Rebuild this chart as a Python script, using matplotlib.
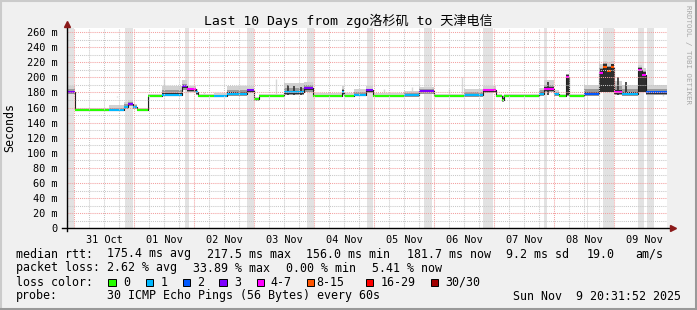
import matplotlib
matplotlib.use("Agg")
from matplotlib import pyplot as plt
from matplotlib.patches import Rectangle
from matplotlib.lines import Line2D

# ---- data (hours since start of 10 day window, ms) ----
seg_start = [0, 3.4, 17, 23, 24.5, 26.5, 28, 32.6, 38, 46, 48, 51.5, 52.5, 59, 64, 72, 75, 77,
             87, 95, 98.5, 110, 111, 115, 119.5, 122.5, 135, 141, 147, 159, 166.5, 171.5, 174,
             175, 189, 191, 195, 197, 199.8, 201, 207, 213, 214.5, 216, 217.5, 219, 222, 228.5,
             230, 231.5]
seg_median = [181, 157, 157, 161, 165, 161, 157, 175.5, 177, 188, 184, 180, 175.5, 175.5, 178,
              183, 171, 175.5, 180, 186, 175.5, 181, 175.5, 177, 183, 175.5, 176, 182, 175.5,
              176.5, 183, 175.5, 170, 175.5, 178, 185, 178, 175.5, 201, 175.5, 178, 206, 214,
              209, 213, 181, 178, 210, 203, 180]
seg_loss = [3, 0, 1, 1, 3, 1, 0, 0, 1, 3, 4, 1, 0, 1, 1, 3, 0, 0, 1, 3, 0, 1, 0, 1, 3, 0, 1, 3,
            0, 1, 4, 0, 0, 0, 1, 4, 1, 0, 4, 0, 2, 4, 5, 5, 5, 4, 1, 4, 4, 2]
smoke_lo = [178, 155, 155, 158, 162, 158, 155, 174, 175, 183, 181, 177, 174, 174, 175, 179, 168,
            174, 176, 181, 174, 176, 174, 175, 179, 174, 174, 178, 174, 174, 179, 174, 167, 174,
            175, 180, 175, 174, 175, 174, 175, 180, 180, 180, 180, 176, 175, 180, 180, 176]
smoke_dark = [184, 158, 159, 164, 167, 163, 158, 176.5, 183, 191, 186, 182, 176.5, 177, 183, 185,
              172, 176.5, 186, 190, 176.5, 185, 176.5, 180, 185, 176.5, 179, 184, 176.5, 180,
              185, 176.5, 175, 176.5, 183, 190, 181, 176.5, 204, 176.5, 184, 212, 219, 215, 218,
              188, 184, 213, 208, 185]
smoke_light = [189, 160, 163, 167, 170, 165, 159, 178, 189, 196, 189, 184, 178, 179, 188, 188, 174,
               178, 192, 194, 179, 188, 179, 185, 189, 179, 182, 187, 178, 185, 189, 178, 177,
               178, 186, 196, 183, 178, 205, 178, 190, 218, 222, 220, 221, 195, 190, 216, 212, 190]

dark_spike_hour = [88.5, 91.0, 93.5, 192.5, 220.5, 223.5]
dark_spike_top = [190, 188, 187, 194, 200, 194]

light_spike_hour = [20.2, 39.0, 55.0, 83.5, 126.7, 138.0, 153.0, 158.0, 238.5]
light_spike_top = [174, 198, 180, 198, 184, 187, 184, 201, 187]

bar_start = [0, 23.4, 47.4, 72.2, 96, 120, 143, 166.6, 191, 208, 214.5, 228.5, 232]
bar_end = [3, 26.4, 48.7, 75, 99, 122.6, 146, 170.6, 192, 208.6, 219, 231, 235]

loss_labels = ["0", "1", "2", "3", "4-7", "8-15", "16-29", "30/30"]
loss_colors = ["#26ff00", "#00b8ff", "#0059ff", "#7e00ff", "#ff00ff", "#ff5500", "#ff0000", "#a10000"]

day_labels = ["31 Oct", "01 Nov", "02 Nov", "03 Nov", "04 Nov", "05 Nov", "06 Nov", "07 Nov",
              "08 Nov", "09 Nov"]
first_midnight = 3.0
y_ticks = list(range(0, 261, 20))

W, H = 697, 310
MONO = "DejaVu Sans Mono"

fig = plt.figure(figsize=(W / 100, H / 100), dpi=100, facecolor="#f0f0f0")


def fx(px):
    return px / W


def fy(py):
    return 1 - py / H


# frame shading
fig.add_artist(Line2D([0, 1], [fy(0.7), fy(0.7)], color="#cbcbcb", lw=1.5))
fig.add_artist(Line2D([fx(0.7), fx(0.7)], [0, 1], color="#cbcbcb", lw=1.5))
fig.add_artist(Line2D([0, 1], [fy(308.6), fy(308.6)], color="#999999", lw=2.2))
fig.add_artist(Line2D([fx(695.6), fx(695.6)], [0, 1], color="#999999", lw=2.2))

left, right, top, bottom = 66.7, 667.0, 28.0, 228.3
ax = fig.add_axes([fx(left), fy(bottom), fx(right - left), (bottom - top) / H])
ax.set_facecolor("white")
ax.set_xlim(0, 240)
ymax = (bottom - top) / 0.755
ax.set_ylim(0, ymax)
for s in ax.spines.values():
    s.set_visible(False)

# full height loss bars
for s, e in zip(bar_start, bar_end):
    ax.axvspan(s, e, color="#e2e2e2", lw=0, zorder=1)
for h, t in zip(light_spike_hour, light_spike_top):
    ax.vlines(h, 175, t, color="#d8d8d8", lw=1.0, zorder=1.2)

# smoke: light outer, mid, dark core near the median
seg_end = seg_start[1:] + [240]
for s, e, m, lo, dk, lt in zip(seg_start, seg_end, seg_median, smoke_lo, smoke_dark, smoke_light):
    ax.fill_between([s, e], [lo, lo], [lt, lt], color="#d2d2d2", lw=0, zorder=1.5)
    ax.fill_between([s, e], [lo, lo], [dk, dk], color="#9a9a9a", lw=0, zorder=1.6)
    if m - lo > 10:
        # wide spikes: almost the whole spread is dark
        core_lo, core_hi = lo + 1, dk - 1
    else:
        core_lo, core_hi = lo + 0.5 * (m - lo), m + 0.4 * (dk - m)
    ax.fill_between([s, e], [core_lo] * 2, [core_hi] * 2, color="#2e2e2e", lw=0, zorder=1.7)
for h, t in zip(dark_spike_hour, dark_spike_top):
    ax.vlines(h, 176, t, color="#303030", lw=1.2, zorder=1.8)

# median line coloured by loss
ax.step(seg_start + [240], seg_median + [seg_median[-1]], where="post", color="#202020",
        lw=0.8, zorder=2)
for s, e, m, l in zip(seg_start, seg_end, seg_median, seg_loss):
    ax.plot([s, e], [m, m], color=loss_colors[l], lw=1.5, solid_capstyle="butt", zorder=2.5)

# grid (drawn above the graph like rrdtool)
dot = (0, (1, 1))
for v in range(10, 266, 20):
    ax.axhline(v, color="#c8c8c8", lw=0.75, ls=dot, zorder=3)
for v in y_ticks[1:]:
    ax.axhline(v, color="#f3a0a0", lw=0.75, ls=dot, zorder=3.1)
for k in range(41):
    h = first_midnight + 6 * k - 24
    if 0 < h < 240 and (h - first_midnight) % 24 != 0:
        ax.axvline(h, color="#c8c8c8", lw=0.75, ls=dot, zorder=3)
day_lines = [first_midnight + 24 * k for k in range(10)]
for h in day_lines:
    ax.axvline(h, color="#f3a0a0", lw=0.75, ls=dot, zorder=3.1)

# axes lines and arrows
ax.plot([0, 0], [-4, ymax + 3], color="black", lw=1.0, clip_on=False, zorder=4)
ax.plot([-1.8, 241.5], [0, 0], color="black", lw=1.0, clip_on=False, zorder=4)
ax.plot([0], [ymax + 5.5], marker="^", color="#8b1a1a", ms=5, clip_on=False, zorder=5)
ax.plot([242.2], [0], marker=">", color="#8b1a1a", ms=5, clip_on=False, zorder=5)

ax.set_yticks(y_ticks, ["0"] + ["%d m" % v for v in y_ticks[1:]])
ax.set_xticks([first_midnight + 12 + 24 * k for k in range(10)], day_labels)
ax.tick_params(axis="y", length=0, pad=6.5, labelsize=7.35)
ax.tick_params(axis="x", length=0, pad=4.5, labelsize=7.35)
for lab in ax.get_xticklabels() + ax.get_yticklabels():
    lab.set_fontfamily(MONO)

# titles
fig.text(0.5, fy(21), "Last 10 Days from zgo洛杉矶 to 天津电信", ha="center", va="center",
         fontsize=9.45, family=[MONO, "Noto Sans CJK SC"])
fig.text(fx(10), fy(128), "Seconds", rotation=90, ha="center", va="center",
         fontsize=8.4, family=MONO)
fig.text(fx(688), fy(5), "RRDTOOL / TOBI OETIKER", rotation=270, ha="center", va="top",
         fontsize=5.4, family=MONO, color="#a8a8a8")

# legend
def leg(px, py, s):
    fig.text(fx(px), fy(py), s, ha="left", va="center", fontsize=8.4, family=MONO)


leg(16, 254, "median rtt:")
leg(107, 254, "175.4 ms avg")
leg(207, 254, "217.5 ms max")
leg(306.5, 254, "156.0 ms min")
leg(407.5, 254, "181.7 ms now")
leg(506.5, 254, "9.2 ms sd")
leg(586.5, 254, "19.0")
leg(635, 254, "am/s")

leg(16, 268, "packet loss:")
leg(107, 268, "2.62 % avg")
leg(193, 268, "33.89 % max")
leg(286.5, 268, "0.00 % min")
leg(372, 268, "5.41 % now")

leg(16, 282, "loss color:")
box_x = [108.3, 145.7, 182.7, 219.3, 256.7, 306.7, 365.7, 430.7]
lab_x = [123, 160.5, 197, 234, 270.5, 316.5, 380.5, 445]
for bx, lx, c, t in zip(box_x, lab_x, loss_colors, loss_labels):
    fig.add_artist(Rectangle((fx(bx), fy(286)), fx(7.5), 7.5 / H, facecolor=c,
                             edgecolor="black", lw=0.7))
    leg(lx, 282, t)

leg(16, 296, "probe:")
leg(107, 296, "30 ICMP Echo Pings (56 Bytes) every 60s")
leg(513, 296, "Sun Nov  9 20:31:52 2025")

fig.savefig("out.png", dpi=100, facecolor=fig.get_facecolor())
